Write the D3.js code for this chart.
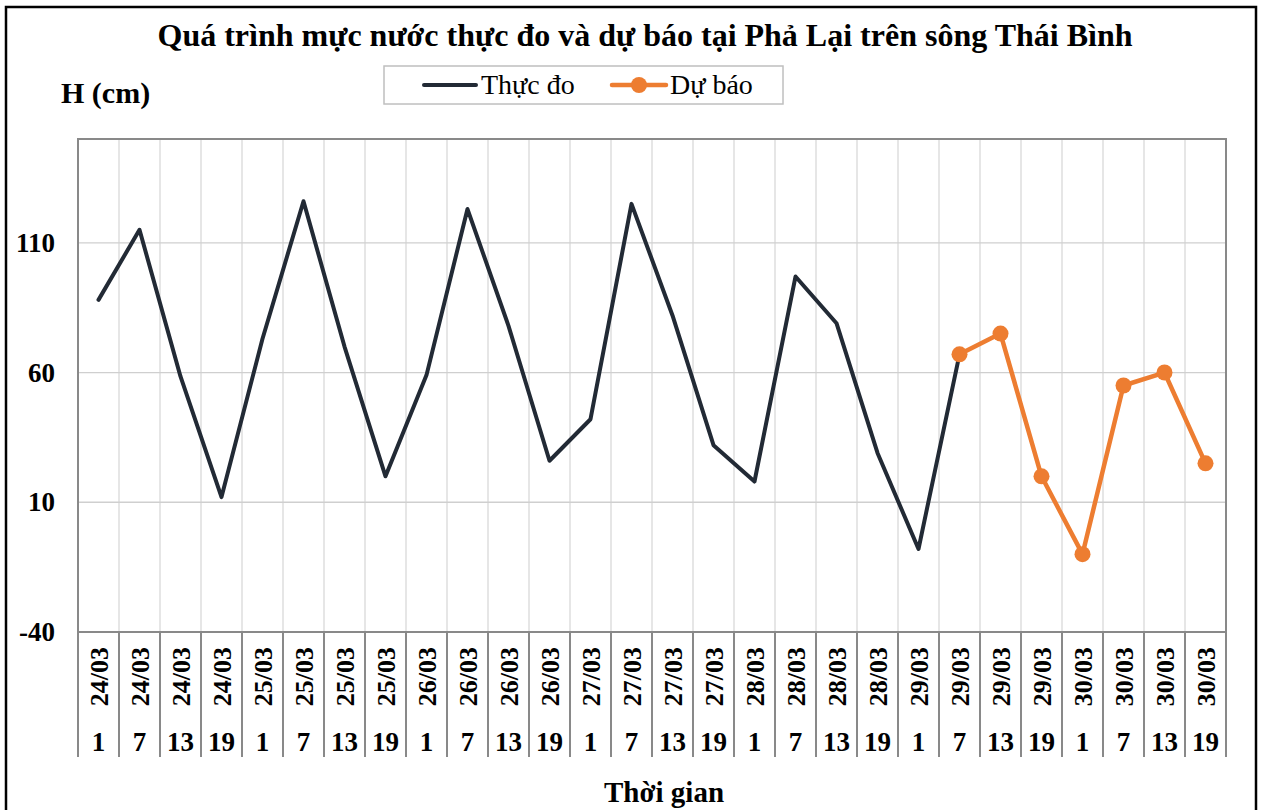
<!DOCTYPE html>
<html>
<head>
<meta charset="utf-8">
<script src="https://cdn.jsdelivr.net/npm/d3@7"></script>
<style>
  body { margin: 0; background: #fff; }
  svg { font-family: "Liberation Serif", "Times New Roman", serif; }
</style>
</head>
<body>
<div id="chart"></div>
<script>
// Width and height
var chart_width  = 1267;
var chart_height = 810;

// Data
var dates = ['24/03','24/03','24/03','24/03','25/03','25/03','25/03','25/03',
             '26/03','26/03','26/03','26/03','27/03','27/03','27/03','27/03',
             '28/03','28/03','28/03','28/03','29/03','29/03','29/03','29/03',
             '30/03','30/03','30/03','30/03'];
var hours = ['1','7','13','19','1','7','13','19','1','7','13','19','1','7','13','19',
             '1','7','13','19','1','7','13','19','1','7','13','19'];
var thuc_do = [88, 115, 58.5, 12, 73, 126, 70, 20, 59, 123, 78, 26, 42, 125, 82, 32,
               18, 97, 79, 29, -8, 67];
var du_bao  = [67, 75, 20, -10, 55, 60, 25];   // starts at index 21
var du_bao_start = 21;
var y_ticks = [-40, 10, 60, 110];

var margin = {left: 78, right: 1226, top: 139, bottom: 632};

var svg = d3.select("#chart")
    .append("svg")
    .attr("width", chart_width)
    .attr("height", chart_height);

var keys = dates.map(function(d, i){ return i; });

var x = d3.scaleBand()
    .domain(keys)
    .range([margin.left, margin.right]);

var y = d3.scaleLinear()
    .domain([-40, 150])
    .range([margin.bottom, margin.top]);

// outer border
svg.append("rect")
    .attr("x", 6).attr("y", 7)
    .attr("width", 1250).attr("height", 820)
    .attr("fill", "none")
    .attr("stroke", "#000")
    .attr("stroke-width", 2.5);

// title
svg.append("text")
    .attr("x", 645).attr("y", 46)
    .attr("text-anchor", "middle")
    .attr("font-weight", "bold")
    .attr("font-size", 32)
    .text("Quá trình mực nước thực đo và dự báo tại Phả Lại trên sông Thái Bình");

svg.append("text")
    .attr("x", 61).attr("y", 103)
    .attr("font-weight", "bold")
    .attr("font-size", 30)
    .text("H (cm)");

// gridlines
svg.append("g")
    .selectAll("line")
    .data(keys.slice(1))
    .enter()
    .append("line")
    .attr("x1", function(d){ return x(d); })
    .attr("x2", function(d){ return x(d); })
    .attr("y1", margin.top)
    .attr("y2", margin.bottom)
    .attr("stroke", "#d9d9d9")
    .attr("stroke-width", 1.3);

svg.append("g")
    .selectAll("line")
    .data(y_ticks.slice(1))
    .enter()
    .append("line")
    .attr("x1", margin.left)
    .attr("x2", margin.right)
    .attr("y1", function(d){ return y(d); })
    .attr("y2", function(d){ return y(d); })
    .attr("stroke", "#cfcfcf")
    .attr("stroke-width", 1.3);

// plot border
svg.append("rect")
    .attr("x", margin.left).attr("y", margin.top)
    .attr("width", margin.right - margin.left)
    .attr("height", margin.bottom - margin.top)
    .attr("fill", "none")
    .attr("stroke", "#898989")
    .attr("stroke-width", 2);

// y axis labels
var yAxis = svg.append("g")
    .attr("transform", "translate(" + margin.left + ",0)")
    .call(d3.axisLeft(y).tickValues(y_ticks).tickSize(0).tickPadding(23)
        .tickFormat(function(d){ return String(d); }));
yAxis.select(".domain").remove();
yAxis.selectAll("text")
    .attr("font-family", "Liberation Serif, serif")
    .attr("font-weight", "bold")
    .attr("font-size", 27)
    .attr("fill", "#000");

// category dividers below axis
svg.append("g")
    .selectAll("line")
    .data(keys.concat([keys.length]))
    .enter()
    .append("line")
    .attr("x1", function(d){ return margin.left + d * x.bandwidth(); })
    .attr("x2", function(d){ return margin.left + d * x.bandwidth(); })
    .attr("y1", margin.bottom)
    .attr("y2", 757)
    .attr("stroke", "#898989")
    .attr("stroke-width", 2);

// date labels (rotated)
svg.append("g")
    .selectAll("text")
    .data(keys)
    .enter()
    .append("text")
    .attr("transform", function(d){
        return "translate(" + (x(d) + x.bandwidth()/2 + 9) + ",647) rotate(-90)";
    })
    .attr("text-anchor", "end")
    .attr("font-weight", "bold")
    .attr("font-size", 26)
    .text(function(d){ return dates[d]; });

// hour labels
svg.append("g")
    .selectAll("text")
    .data(keys)
    .enter()
    .append("text")
    .attr("x", function(d){ return x(d) + x.bandwidth()/2; })
    .attr("y", 751)
    .attr("text-anchor", "middle")
    .attr("font-weight", "bold")
    .attr("font-size", 27)
    .text(function(d){ return hours[d]; });

svg.append("text")
    .attr("x", 664).attr("y", 802)
    .attr("text-anchor", "middle")
    .attr("font-weight", "bold")
    .attr("font-size", 29)
    .text("Thời gian");

// lines
var line = d3.line()
    .x(function(d){ return x(d.i) + x.bandwidth()/2; })
    .y(function(d){ return y(d.v); });

var td = thuc_do.map(function(v, i){ return {i: i, v: v}; });
var db = du_bao.map(function(v, i){ return {i: i + du_bao_start, v: v}; });

svg.append("path")
    .datum(td)
    .attr("d", line)
    .attr("fill", "none")
    .attr("stroke", "#222a35")
    .attr("stroke-width", 4)
    .attr("stroke-linejoin", "round")
    .attr("stroke-linecap", "round");

svg.append("path")
    .datum(db)
    .attr("d", line)
    .attr("fill", "none")
    .attr("stroke", "#ed7d31")
    .attr("stroke-width", 4.5)
    .attr("stroke-linejoin", "round");

svg.selectAll("circle.db")
    .data(db)
    .enter()
    .append("circle")
    .attr("class", "db")
    .attr("cx", function(d){ return x(d.i) + x.bandwidth()/2; })
    .attr("cy", function(d){ return y(d.v); })
    .attr("r", 8)
    .attr("fill", "#ed7d31");

// legend
var legend = svg.append("g");
legend.append("rect")
    .attr("x", 384).attr("y", 66)
    .attr("width", 399).attr("height", 38)
    .attr("fill", "#fff")
    .attr("stroke", "#bfbfbf")
    .attr("stroke-width", 1.5);
legend.append("line")
    .attr("x1", 424).attr("x2", 476)
    .attr("y1", 85).attr("y2", 85)
    .attr("stroke", "#222a35")
    .attr("stroke-width", 4)
    .attr("stroke-linecap", "round");
legend.append("text")
    .attr("x", 481).attr("y", 94)
    .attr("font-size", 28)
    .text("Thực đo");
legend.append("line")
    .attr("x1", 612).attr("x2", 666)
    .attr("y1", 85).attr("y2", 85)
    .attr("stroke", "#ed7d31")
    .attr("stroke-width", 4.5)
    .attr("stroke-linecap", "round");
legend.append("circle")
    .attr("cx", 639).attr("cy", 85)
    .attr("r", 8)
    .attr("fill", "#ed7d31");
legend.append("text")
    .attr("x", 670).attr("y", 94)
    .attr("font-size", 28)
    .text("Dự báo");
</script>
</body>
</html>
